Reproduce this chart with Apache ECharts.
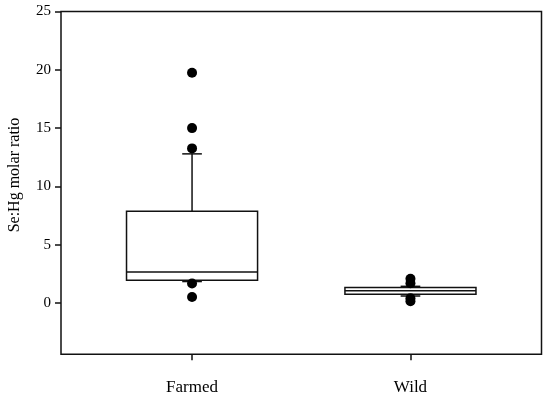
<!DOCTYPE html>
<html>
<head>
<meta charset="utf-8">
<script src="https://cdn.jsdelivr.net/npm/echarts@6/dist/echarts.min.js"></script>
<style>html,body{margin:0;padding:0;background:#fff;}#c{width:550px;height:399px;}</style>
</head>
<body>
<div id="c"></div>
<script>
// categories and their x positions on the value axis
const categories = ['Farmed', 'Wild'];
const categoryPos = [1, 2];
// box stats: [lowWhisker, q1, median, q3, highWhisker]
const farmedBox = [1.84, 1.95, 2.66, 7.87, 12.79];
const wildBox = [0.6, 0.75, 1.05, 1.32, 1.43];
// outliers
const farmedOutliers = [19.75, 15.0, 13.26, 1.67, 0.52];
const wildOutliers = [2.08, 1.69, 0.4, 0.15];
// y tick labels
const yTicks = [0, 5, 10, 15, 20, 25];

const boxData = [
  [categoryPos[0]].concat(farmedBox),
  [categoryPos[1]].concat(wildBox)
];
const outlierData = farmedOutliers.map(v => [categoryPos[0], v])
  .concat(wildOutliers.map(v => [categoryPos[1], v]));

const chart = echarts.init(document.getElementById('c'), null, {renderer: 'canvas'});
const font = 'Liberation Serif';
const lineColor = '#111';

function renderBox(params, api) {
  const x = api.value(0);
  const lo = api.value(1), q1 = api.value(2), med = api.value(3), q3 = api.value(4), hi = api.value(5);
  const bw = 0.3, cw = 0.045;
  const pL = api.coord([x - bw, q3]);
  const pR = api.coord([x + bw, q1]);
  const cL = api.coord([x - cw, 0])[0], cR = api.coord([x + cw, 0])[0];
  const cx = api.coord([x, 0])[0];
  const yLo = api.coord([x, lo])[1], yHi = api.coord([x, hi])[1];
  const yQ1 = pR[1], yQ3 = pL[1], yMed = api.coord([x, med])[1];
  const st = {stroke: lineColor, lineWidth: 1.5, fill: null};
  return {
    type: 'group',
    children: [
      {type: 'line', shape: {x1: cx, y1: yQ3, x2: cx, y2: yHi}, style: st},
      {type: 'line', shape: {x1: cx, y1: yQ1, x2: cx, y2: yLo}, style: st},
      {type: 'line', shape: {x1: cL, y1: yHi, x2: cR, y2: yHi}, style: st},
      {type: 'line', shape: {x1: cL, y1: yLo, x2: cR, y2: yLo}, style: st},
      {type: 'rect', shape: {x: pL[0], y: yQ3, width: pR[0] - pL[0], height: yQ1 - yQ3}, style: {stroke: lineColor, lineWidth: 1.5, fill: '#fff'}},
      {type: 'line', shape: {x1: pL[0], y1: yMed, x2: pR[0], y2: yMed}, style: st}
    ]
  };
}

chart.setOption({
  animation: false,
  backgroundColor: '#fff',
  grid: {left: 61, right: 8.5, top: 11.5, bottom: 44.7, show: true, borderColor: lineColor, borderWidth: 1.5, backgroundColor: 'transparent'},
  xAxis: {
    type: 'value', min: 0.4, max: 2.6,
    splitLine: {show: false},
    axisLine: {show: false, onZero: false},
    axisTick: {show: true, length: 6, customValues: categoryPos, lineStyle: {color: lineColor, width: 1.5}},
    axisLabel: {show: true, customValues: categoryPos, margin: 25, fontFamily: font, fontSize: 17, color: '#000',
      formatter: v => { const i = categoryPos.indexOf(v); return i >= 0 ? categories[i] : ''; }}
  },
  yAxis: {
    type: 'value', min: -4.4, max: 25,
    splitLine: {show: false},
    axisLine: {show: false, onZero: false},
    axisTick: {show: true, length: 6, customValues: yTicks, lineStyle: {color: lineColor, width: 1.5}},
    axisLabel: {show: true, customValues: yTicks, margin: 10, fontFamily: font, fontSize: 15, color: '#000'}
  },
  graphic: [{
    type: 'text', x: 15, y: 175, rotation: Math.PI / 2,
    style: {text: 'Se:Hg molar ratio', fontFamily: font, fontSize: 16, fill: '#000', align: 'center', verticalAlign: 'middle'}
  }],
  series: [
    {type: 'custom', renderItem: renderBox, data: boxData, encode: {x: 0, y: [1, 2, 3, 4, 5]}, z: 2},
    {type: 'scatter', data: outlierData, symbol: 'circle', symbolSize: 10, itemStyle: {color: '#000', opacity: 1}, z: 3}
  ]
});
</script>
</body>
</html>
